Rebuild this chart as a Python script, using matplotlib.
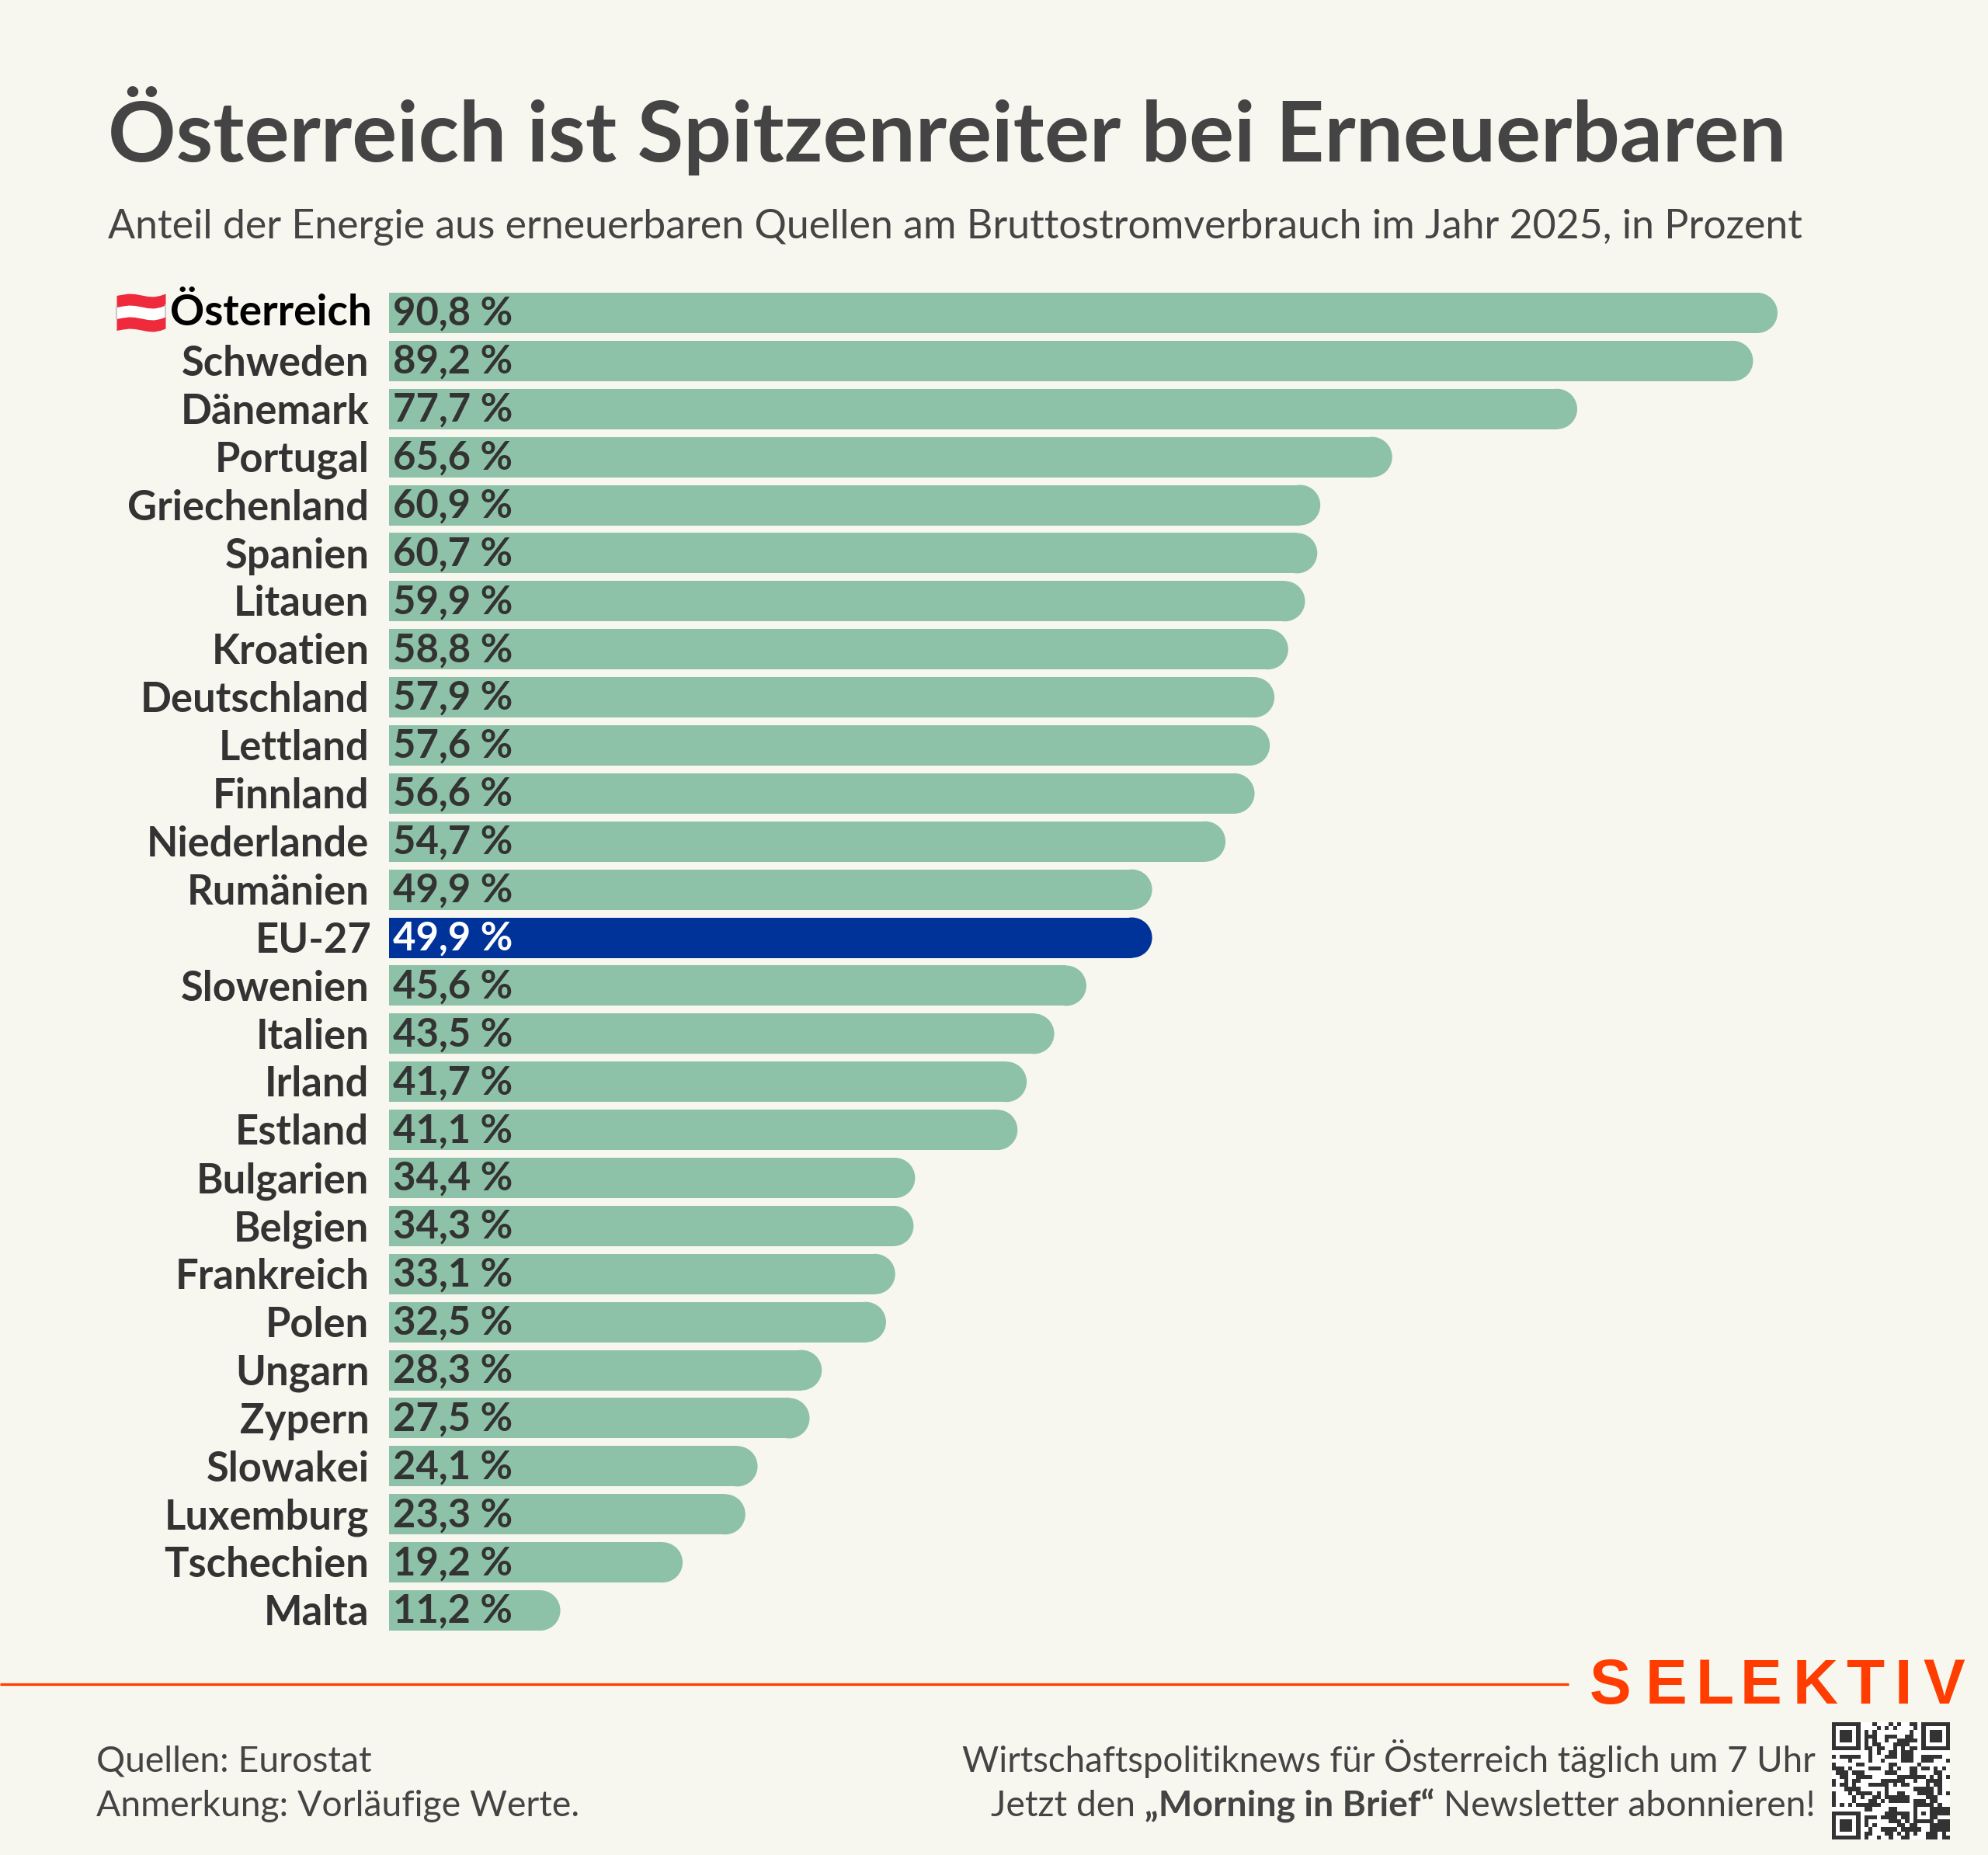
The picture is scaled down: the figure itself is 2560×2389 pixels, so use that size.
"""
Share of renewables in gross electricity consumption, EU countries 2025.
"""

import matplotlib
matplotlib.use("Agg")
import matplotlib.pyplot as plt
from matplotlib.patches import Ellipse
import numpy as np

COUNTRIES = ["Österreich", "Schweden", "Dänemark", "Portugal", "Griechenland", "Spanien", "Litauen",
             "Kroatien", "Deutschland", "Lettland", "Finnland", "Niederlande", "Rumänien", "EU-27",
             "Slowenien", "Italien", "Irland", "Estland", "Bulgarien", "Belgien", "Frankreich", "Polen",
             "Ungarn", "Zypern", "Slowakei", "Luxemburg", "Tschechien", "Malta"]
VALUES = [90.8, 89.2, 77.7, 65.6, 60.9, 60.7, 59.9, 58.8, 57.9, 57.6, 56.6, 54.7, 49.9, 49.9,
          45.6, 43.5, 41.7, 41.1, 34.4, 34.3, 33.1, 32.5, 28.3, 27.5, 24.1, 23.3, 19.2, 11.2]

TITLE = "Österreich ist Spitzenreiter bei Erneuerbaren"
SUBTITLE = "Anteil der Energie aus erneuerbaren Quellen am Bruttostromverbrauch im Jahr 2025, in Prozent"
SOURCE_LINES = ["Quellen: Eurostat", "Anmerkung: Vorläufige Werte."]
PROMO_LINE = "Wirtschaftspolitiknews für Österreich täglich um 7 Uhr"
PROMO_PARTS = [("Jetzt den ", "normal"), ("„Morning in Brief“", "bold"), (" Newsletter abonnieren!", "normal")]

LOGO_LETTERS = list("SELEKTIV")
LOGO_CENTERS = [2074, 2145, 2208, 2268, 2338, 2402, 2451, 2503]

# flag wave
FLAG_X = [150, 158, 166, 174, 182, 190, 198, 206, 213]
FLAG_WAVE = [2.5, 1, 0, 0.5, 2, 3.5, 4, 2.5, 0]

QR_ROWS = [
    "1111111 0 0010001010011 0 1111111",
    "1000001 0 0001010100001 0 1000001",
    "1011101 0 1010000000010 0 1011101",
    "1011101 0 1110011100110 0 1011101",
    "1011101 0 1010010011111 0 1011101",
    "1000001 0 1011000111100 0 1000001",
    "1111111 0 1101100101011 0 1111111",
    "0000000 0 0101001101110 0 0000000",
    "1011111 0 0100011101110 0 1111100",
    "0000100 0 0100100001110 0 1110001",
    "1000001 1 0000001100000 1 0000000",
    "1110100 0 0111001010011 0 1101010",
    "0111011 1 0000011100011 0 0001100",
    "0011001 1 1100000011111 1 1010101",
    "1001011 0 0000111111001 0 0111100",
    "1011010 0 0111110101100 0 0101100",
    "0001111 0 0000010000001 1 1110100",
    "1000101 1 1101010011000 1 1110101",
    "1000010 1 0011011111100 0 0111000",
    "1000010 0 0110101111101 1 1011000",
    "1010101 1 1111000000001 1 1110100",
    "0000000 0 1100001100001 0 0011111",
    "1111111 0 0000011111101 0 1011111",
    "1000001 0 1110111101101 0 0011000",
    "1011101 0 1000001110101 1 1110111",
    "1011101 0 1010000011011 0 0011111",
    "1011101 0 0100111101111 1 0011111",
    "1000001 0 1100011010101 0 0111010",
    "1111111 0 1001001001100 0 0111011",
]

BACKGROUND = "#F8F7EF"
GREEN = "#8DC2A8"
BLUE = "#003399"
ORANGE = "#FF3D00"
DARK = "#333333"
GREY = "#444444"

FONT = "Lato"
W, H = 2560, 2389


def plot_bars(fig):
    """
    Horizontal bars with a rounded right end, values inside the bar.
    """
    # axes box in pixels: left 501, right 2289, rows 372 to 2105
    ax = fig.add_axes([501 / W, 1 - 2105 / H, (2289 - 501) / W, (2105 - 372) / H])
    ax.set_xlim(0, 90.8)
    ax.set_ylim(27.5, -0.5)
    ax.axis("off")

    px_x = 90.8 / (2289 - 501)
    radius = 26 * px_x
    bar_h = 0.84
    for i, (name, value) in enumerate(zip(COUNTRIES, VALUES)):
        color = BLUE if name == "EU-27" else GREEN
        ax.barh(i, value - radius, height=bar_h, color=color, linewidth=0)
        ax.add_patch(Ellipse((value - radius, i), 2 * radius, bar_h, facecolor=color, linewidth=0, clip_on=False))

        ax.annotate(f"{value:.1f} %".replace(".", ","), xy=(0, i), xytext=(3.3, -11.5), textcoords="offset points",
                    ha="left", va="baseline", fontsize=36.5, fontweight="bold", family=FONT,
                    color="white" if name == "EU-27" else DARK)
        if name == "Österreich":
            ax.annotate(name, xy=(0, i), xytext=(-16, -11.5), textcoords="offset points", ha="right", va="baseline",
                        fontsize=39.5, fontweight="bold", family=FONT, color="black")
        else:
            dx = -16 if name == "EU-27" else -18.5
            ax.annotate(name, xy=(0, i), xytext=(dx, -13.8), textcoords="offset points", ha="right", va="baseline",
                        fontsize=37.8, fontweight="bold", family=FONT, color=DARK)
    return ax


def plot_decoration(fig):
    """
    Everything outside the bars, on an overlay axes in pixel coordinates.
    """
    ax = fig.add_axes([0, 0, 1, 1])
    ax.set_xlim(0, W)
    ax.set_ylim(H, 0)
    ax.axis("off")
    ax.patch.set_alpha(0)

    ax.text(139, 208, TITLE, fontsize=78, fontweight="bold", family=FONT, color=GREY, va="baseline")
    ax.text(139, 307, SUBTITLE, fontsize=37.4, family=FONT, color=GREY, va="baseline")

    # austrian flag next to the first label
    flag_x = np.array(FLAG_X)
    wave = np.array(FLAG_WAVE)
    ax.fill_between(flag_x, 393 + wave, 408 + wave, color="#FFFFFF", linewidth=0)
    ax.plot([150, 150], [394, 410], color="#C9CBD0", linewidth=1.5)
    ax.plot([213, 213], [393, 408], color="#C9CBD0", linewidth=1.5)
    for offset in (378, 408):
        ax.fill_between(flag_x, offset + wave, offset + 15 + wave, color="#EE2A3C", linewidth=0)

    # footer rule and logo
    ax.plot([0, 2020], [2169, 2169], color=ORANGE, linewidth=2.4, solid_capstyle="butt")
    for letter, x in zip(LOGO_LETTERS, LOGO_CENTERS):
        ax.text(x, 2194, letter, fontsize=58, fontweight="bold", family="Liberation Sans", color=ORANGE,
                ha="center", va="baseline")

    for y, line in zip((2282, 2339), SOURCE_LINES):
        ax.text(124, y, line, fontsize=33.4, family=FONT, color=GREY, va="baseline")

    ax.text(2338, 2282, PROMO_LINE, fontsize=32.9, family=FONT, color=GREY, ha="right", va="baseline")
    renderer = fig.canvas.get_renderer()
    x = 2338
    for part, weight in reversed(PROMO_PARTS):
        txt = ax.text(x, 2339, part, fontsize=33.3, fontweight=weight, family=FONT, color=GREY,
                      ha="right", va="baseline")
        x -= txt.get_window_extent(renderer).width

    qr = np.array([[int(c) for c in row.replace(" ", "")] for row in QR_ROWS])
    ax.imshow(1 - qr, cmap="gray", vmin=-0.25, vmax=1, extent=(2359, 2511, 2369, 2218),
              interpolation="nearest", aspect="auto")
    ax.set_xlim(0, W)
    ax.set_ylim(H, 0)


def main():
    fig = plt.figure(figsize=(W / 100, H / 100), dpi=100, facecolor=BACKGROUND)
    plot_bars(fig)
    plot_decoration(fig)
    fig.savefig("out.png", facecolor=BACKGROUND)
    plt.close(fig)


if __name__ == "__main__":
    main()
